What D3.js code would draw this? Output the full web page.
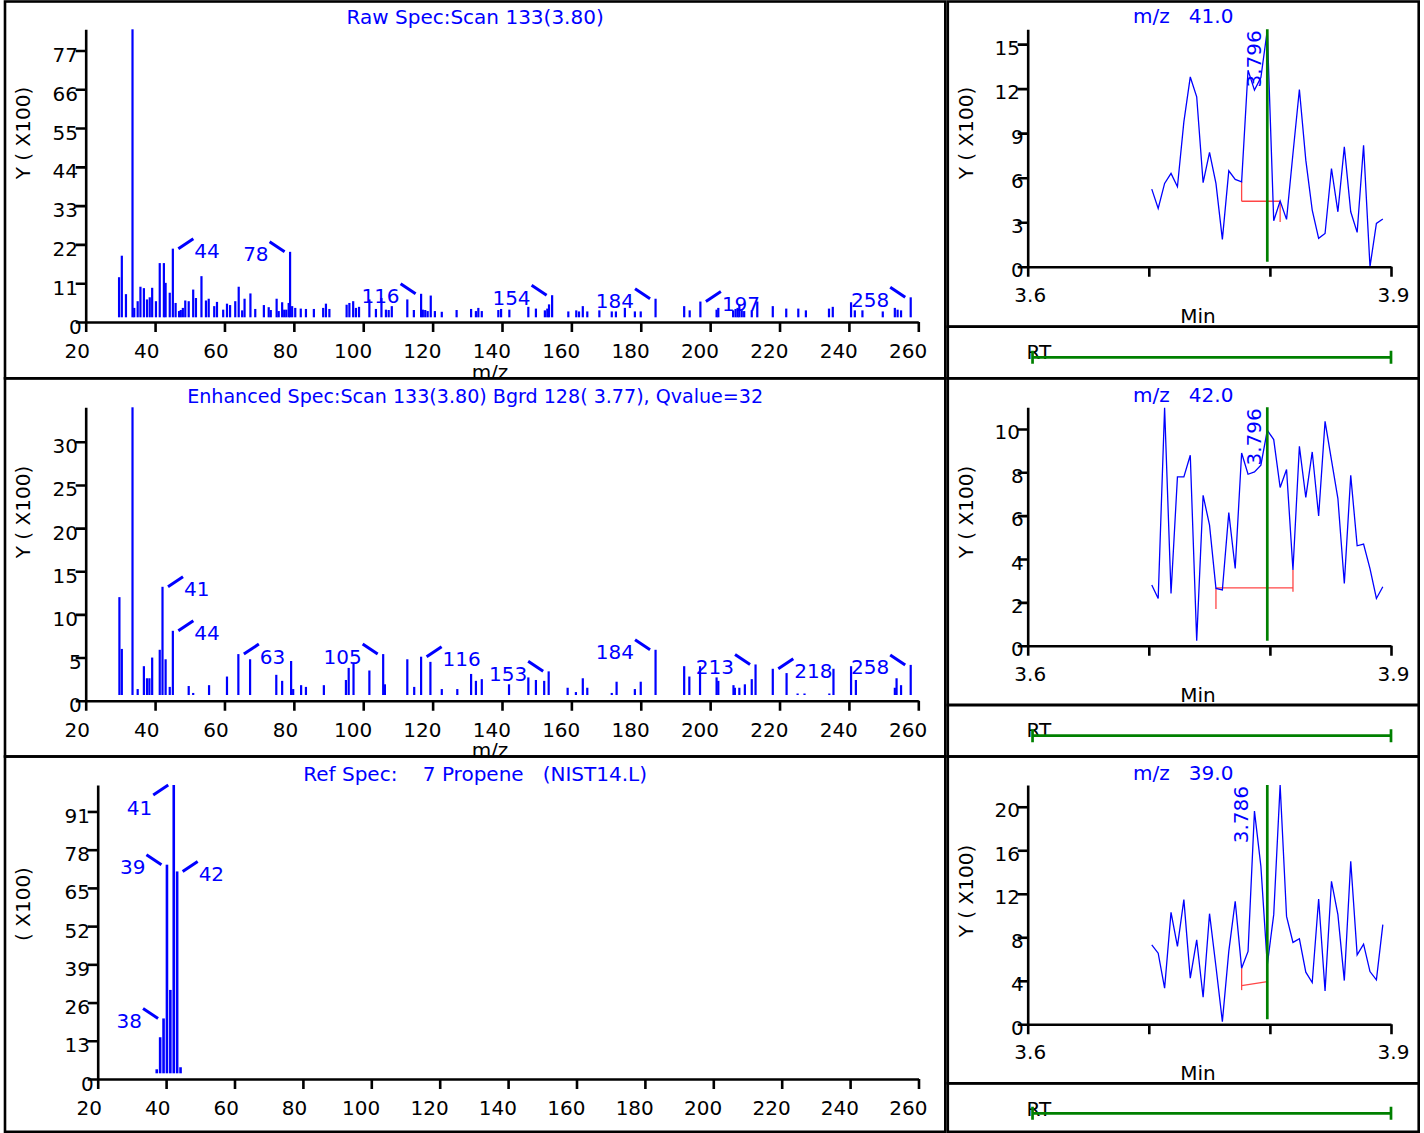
<!DOCTYPE html>
<html>
<head>
<meta charset="utf-8">
<script src="https://cdn.jsdelivr.net/npm/d3@7"></script>
<style>
  html, body { margin: 0; padding: 0; background: #fff; }
  svg { display: block; }
  text { font-family: "DejaVu Sans", Verdana, sans-serif; font-size: 20px; }
</style>
</head>
<body>
<svg id="chart" width="1424" height="1133"></svg>
<script>
// ---------------- Spectrum data ----------------
const mzTicks = [20, 40, 60, 80, 100, 120, 140, 160, 180, 200, 220, 240, 260];

const rawTitle = "Raw Spec:Scan 133(3.80)";
const rawMz = [
  28.4, 29.2, 30.4, 32.3, 32.8, 33.8, 34.6, 35.6, 36.5, 37.3,
  38.0, 39.1, 40.2, 41.4, 41.9, 43.1, 44, 44.8, 45.8, 46.3,
  46.9, 47.6, 48.6, 49.9, 50.7, 52.3, 53.6, 54.4, 56.0, 56.8,
  58.6, 59.7, 60.6, 62.1, 63.1, 64.1, 64.8, 66.5, 67.9, 70.4,
  71.8, 72.4, 74.1, 74.7, 75.7, 76.3, 76.9, 77.6, 78, 78.6,
  79.5, 81.1, 82.6, 84.9, 87.6, 88.4, 89.4, 94.4, 95.2, 96.3,
  97.1, 98.0, 101.0, 102.9, 104.5, 105.8, 106.6, 107.5, 112.0, 113.9,
  116, 116.5, 117.2, 117.9, 118.8, 120.0, 122.0, 126.3, 130.5, 131.9,
  132.6, 133.6, 138.4, 139.2, 141.6, 147.1, 149.3, 151.9, 152.6, 153.1,
  154, 158.7, 161.0, 161.8, 162.9, 164.2, 167.7, 171.3, 172.5, 175.1,
  178.0, 179.7, 184, 192.3, 193.9, 197, 201.7, 202.2, 206.5, 207.2,
  207.8, 208.3, 209.0, 209.7, 211.9, 213.5, 218.0, 221.9, 225.4, 227.6,
  234.3, 235.4, 240.7, 241.8, 244.0, 249.9, 253.4, 254.2, 255.2, 258
];
const rawAbund = [
  12.7, 18.8, 7.9, 83, 4.0, 5.9, 10.0, 9.6, 6.4, 7.0,
  9.7, 5.9, 16.7, 16.7, 11.1, 8.3, 20.8, 5.4, 3.1, 3.4,
  4.0, 6.1, 5.9, 9.2, 6.8, 13.0, 6.1, 6.6, 4.5, 5.7,
  3.5, 5.2, 4.8, 5.9, 10.0, 3.3, 6.6, 8.1, 3.7, 4.8,
  4.2, 3.4, 6.6, 3.1, 5.6, 3.5, 3.5, 5.4, 19.9, 4.5,
  4.0, 3.8, 3.7, 3.7, 4.0, 5.2, 3.7, 4.9, 5.4, 5.9,
  4.0, 4.3, 6.4, 3.7, 6.8, 3.5, 3.4, 4.5, 6.4, 3.4,
  8.0, 3.5, 3.4, 3.1, 7.5, 3.1, 2.9, 3.4, 3.7, 3.1,
  4.0, 3.1, 3.4, 3.7, 3.5, 4.3, 3.8, 3.3, 3.8, 5.0,
  7.6, 3.0, 3.3, 3.0, 4.5, 3.0, 3.3, 3.0, 3.0, 4.0,
  3.0, 3.0, 6.6, 4.5, 3.3, 5.8, 3.5, 4.0, 3.3, 3.7,
  4.0, 4.9, 3.3, 3.1, 3.3, 5.8, 4.5, 3.8, 3.8, 3.3,
  3.8, 4.3, 5.6, 3.3, 3.3, 3.0, 4.0, 3.5, 3.3, 7.0
];
const rawYTicks = [0, 11, 22, 33, 44, 55, 66, 77];
const rawLabels = [44, 78, 116, 154, 184, 197, 258];
const rawLabelSides = ["R", "L", "L", "L", "L", "R", "L"];

const enhTitle = "Enhanced Spec:Scan 133(3.80) Bgrd 128( 3.77), Qvalue=32";
const enhMz = [
  28.5, 29.2, 32.3, 33.8, 35.6, 36.5, 37.2, 38.0, 40.2, 41,
  41.9, 43.1, 44, 48.6, 49.9, 54.5, 59.7, 63, 66.4, 74.0,
  75.7, 78.3, 78.9, 81.2, 82.6, 87.8, 94.2, 95.0, 96.4, 101.0,
  105, 105.5, 112.0, 114.0, 116, 118.7, 122.0, 126.5, 130.5, 131.9,
  133.6, 141.5, 147.1, 149.3, 151.7, 153, 158.5, 160.9, 162.9, 164.2,
  171.3, 172.7, 178.0, 179.7, 184, 192.3, 193.8, 196.9, 201.7, 202.2,
  206.6, 207.0, 208.3, 209.9, 211.9, 213, 218, 222.0, 225.2, 227.2,
  234.4, 235.6, 240.7, 242.1, 253.4, 253.9, 255.2, 258
];
const enhAbund = [
  12.0, 6.0, 34, 1.35, 4.0, 2.6, 2.6, 5.0, 5.9, 13.2,
  4.8, 1.6, 8.1, 1.7, 0.9, 1.8, 2.8, 5.4, 4.8, 3.0,
  2.3, 4.6, 1.35, 1.8, 1.6, 1.8, 2.4, 3.8, 4.4, 3.5,
  5.4, 1.9, 4.8, 1.6, 5.1, 4.5, 1.35, 1.35, 3.1, 2.3,
  2.5, 1.9, 2.7, 2.4, 2.3, 3.4, 1.5, 1.0, 2.6, 1.5,
  0.9, 2.2, 1.35, 2.2, 5.9, 4.0, 2.8, 4.0, 2.7, 2.3,
  1.8, 1.5, 1.5, 1.9, 2.5, 4.2, 3.7, 3.2, 0.4, 0.4,
  0.4, 3.7, 4.0, 2.4, 1.5, 2.6, 1.8, 4.15
];
const enhYTicks = [0, 5, 10, 15, 20, 25, 30];
const enhLabels = [41, 44, 63, 105, 116, 153, 184, 213, 218, 258];
const enhLabelSides = ["R", "R", "R", "L", "R", "L", "L", "L", "R", "L"];

const refTitle = "Ref Spec:    7 Propene   (NIST14.L)";
const refMz = [36, 37, 38, 39, 40, 41, 42, 43];
const refAbund = [3.3, 14.2, 20.6, 72.9, 30.3, 100, 70.6, 4.0];
const refYTicks = [0, 13, 26, 39, 52, 65, 78, 91];
const refLabels = [41, 39, 42, 38];
const refLabelSides = ["LD", "L", "R", "L"];

// ---------------- Ion chromatogram data ----------------
const eicIons = ["41.0", "42.0", "39.0"];
const eicTimes = [
  3.7008, 3.7061, 3.7114, 3.7167, 3.7220, 3.7273, 3.7326, 3.7379, 3.7432, 3.7485,
  3.7538, 3.7591, 3.7644, 3.7697, 3.7750, 3.7803, 3.7856, 3.7909, 3.7962, 3.8015,
  3.8068, 3.8121, 3.8174, 3.8227, 3.8280, 3.8333, 3.8386, 3.8439, 3.8492, 3.8545,
  3.8598, 3.8651, 3.8704, 3.8757, 3.8810, 3.8863, 3.8916
];
const eic41 = [
  5.23, 3.93, 5.61, 6.29, 5.39, 9.76, 12.79, 11.45, 5.66, 7.70,
  5.61, 1.84, 6.46, 5.88, 5.72, 13.24, 11.90, 12.75, 15.94, 3.10,
  4.42, 3.19, 7.63, 11.94, 7.18, 3.82, 1.91, 2.24, 6.62, 3.70,
  8.08, 3.70, 2.31, 8.19, 0.0, 2.92, 3.21
];
const eic42 = [
  2.80, 2.18, 10.98, 2.41, 7.79, 7.79, 8.79, 0.23, 6.94, 5.56,
  2.64, 2.57, 6.14, 3.56, 8.89, 7.91, 8.02, 8.33, 9.94, 9.51,
  7.30, 8.13, 3.49, 9.20, 6.84, 8.94, 5.99, 10.35, 8.56, 6.79,
  2.87, 7.86, 4.61, 4.69, 3.56, 2.18, 2.72
];
const eic39 = [
  7.31, 6.54, 3.32, 10.29, 7.16, 11.46, 4.24, 7.77, 2.49, 10.17,
  5.31, 0.25, 6.70, 11.31, 5.16, 6.70, 19.60, 14.53, 5.47, 10.08,
  22.0, 9.92, 7.53, 7.86, 4.79, 3.84, 11.52, 3.07, 13.15, 10.08,
  4.02, 14.99, 6.39, 7.37, 4.85, 4.09, 9.16
];
const eicYMax = [16, 11, 22];
const eic41Ticks = [0, 3, 6, 9, 12, 15];
const eic42Ticks = [0, 2, 4, 6, 8, 10];
const eic39Ticks = [0, 4, 8, 12, 16, 20];
const eicApexTimes = [3.7962, 3.7962, 3.7856];
const eicScanTime = 3.7962;
// integration baseline: start/end time, level at each end, lower end of each marker
const eicBaseStart = [3.7750, 3.7538, 3.7750];
const eicBaseEnd = [3.8068, 3.8174, 3.7962];
const eicBaseLevelStart = [4.41, 2.67, 3.56];
const eicBaseLevelEnd = [4.41, 2.67, 3.93];
const eicMarkLowStart = [4.41, 1.69, 3.14];
const eicMarkLowEnd = [3.02, 2.49, 3.83];
const timeTicks = [3.6, 3.7, 3.8, 3.9];
const timeTickLabels = [3.6, 3.9];
const rtWindow = [3.604, 3.9];

// ---------------- Drawing ----------------
const svg = d3.select("#chart");
const BLUE = "#0000ff", GREEN = "#008000", RED = "#ff4646", BLACK = "#000";
const AXIS_W = 2.6;

const leftCol = { x0: 5, x1: 945.3 };
const rightCol = { x0: 947.8, x1: 1418.7 };
const rowEdges = [1.5, 378.3, 756.5, 1131.8];
const rtEdges = [326.7, 705, 1083.3];

function styleAxis(a) {
  a.attr("font-size", null).attr("font-family", null);
  a.select(".domain").attr("stroke", BLACK).attr("stroke-width", AXIS_W);
  a.selectAll(".tick line").attr("stroke", BLACK).attr("stroke-width", AXIS_W);
  a.selectAll(".tick text").attr("fill", BLACK).style("font-size", "20px");
}

const specPanels = [
  { title: rawTitle, titleWidth: null, mz: rawMz, ab: rawAbund, ticks: rawYTicks, yMax: 83,
    labels: rawLabels, sides: rawLabelSides,
    axisX: [85.7, 918.3], barX: [90.1, 917.6], axisY: 322, topY: 29.3, gap: 4.7, barW: 2.2,
    titleY: 23.5, yTitle: "Y ( X100)", yTitleY: 133, xTitle: true },
  { title: enhTitle, titleWidth: 576, mz: enhMz, ab: enhAbund, ticks: enhYTicks, yMax: 34,
    labels: enhLabels, sides: enhLabelSides,
    axisX: [85.7, 918.3], barX: [90.1, 917.6], axisY: 700.7, topY: 407.3, gap: 5.7, barW: 2.2,
    titleY: 403, yTitle: "Y ( X100)", yTitleY: 512, xTitle: true },
  { title: refTitle, titleWidth: null, mz: refMz, ab: refAbund, ticks: refYTicks, yMax: 100,
    labels: refLabels, sides: refLabelSides,
    axisX: [97.7, 918.5], barX: [102.4, 917.8], axisY: 1079, topY: 785, gap: 5.7, barW: 2.6,
    titleY: 780.5, yTitle: "( X100)", yTitleY: 904, xTitle: false }
];

specPanels.forEach((p, i) => {
  const top = rowEdges[i], bottom = rowEdges[i + 1];
  const clipId = "spec-clip-" + i;
  svg.append("clipPath").attr("id", clipId).append("rect")
    .attr("x", leftCol.x0).attr("y", top)
    .attr("width", leftCol.x1 - leftCol.x0).attr("height", bottom - top);
  const g = svg.append("g").attr("clip-path", `url(#${clipId})`);

  const x = d3.scaleLinear().domain([20, 260]).range(p.axisX);
  const xb = d3.scaleLinear().domain([20, 260]).range(p.barX);
  const y = d3.scaleLinear().domain([0, p.yMax]).range([p.axisY, p.topY]);
  const base = p.axisY - p.gap;

  const title = g.append("text")
    .attr("x", (leftCol.x0 + leftCol.x1) / 2).attr("y", p.titleY)
    .attr("text-anchor", "middle").attr("fill", BLUE)
    .style("white-space", "pre").text(p.title);
  if (p.titleWidth) title.attr("textLength", p.titleWidth).attr("lengthAdjust", "spacingAndGlyphs");

  const bars = p.mz.map((m, k) => ({ mz: m, ab: p.ab[k] }));
  const barTop = d => Math.min(y(d.ab), base - 1.5);
  g.append("g").selectAll("rect").data(bars).join("rect")
    .attr("x", d => xb(d.mz) - p.barW / 2)
    .attr("y", barTop)
    .attr("width", p.barW)
    .attr("height", d => base - barTop(d))
    .attr("fill", BLUE);

  // peak annotations with short leaders
  const lg = g.append("g");
  p.labels.forEach((lab, k) => {
    const d = bars.find(b => b.mz === lab);
    const side = p.sides[k];
    const s = side[0] === "R" ? 1 : -1;
    const drop = side.length > 1;
    const bx = xb(d.mz), ty = y(d.ab);
    lg.append("line")
      .attr("x1", bx + s * 5.5).attr("y1", ty)
      .attr("x2", bx + s * 20.5).attr("y2", ty + (drop ? 10 : -10))
      .attr("stroke", BLUE).attr("stroke-width", 3);
    lg.append("text")
      .attr("x", bx + s * 21.5).attr("y", drop ? ty + 30 : ty + 9.5)
      .attr("text-anchor", s > 0 ? "start" : "end")
      .attr("fill", BLUE).text(d3.format("d")(d.mz));
  });

  const ax = g.append("g").attr("transform", `translate(0,${p.axisY})`)
    .call(d3.axisBottom(x).tickValues(mzTicks).tickSize(10).tickSizeOuter(0));
  styleAxis(ax);
  ax.selectAll(".tick text")
    .attr("text-anchor", "start")
    .attr("x", d => -(8.15 * String(d).length + 5.3))
    .attr("y", 36).attr("dy", 0);

  const ay = g.append("g").attr("transform", `translate(${p.axisX[0]},0)`)
    .call(d3.axisLeft(y).tickValues(p.ticks).tickSize(10).tickSizeOuter(0));
  styleAxis(ay);
  ay.selectAll(".tick text")
    .attr("text-anchor", "start")
    .attr("x", d => -(16.3 * String(d).length + 0.5))
    .attr("y", 11).attr("dy", 0);

  g.append("text")
    .attr("transform", `translate(30,${p.yTitleY}) rotate(-90)`)
    .attr("text-anchor", "middle").attr("fill", BLACK).style("white-space", "pre")
    .text(p.yTitle);

  if (p.xTitle) {
    g.append("text")
      .attr("x", 490).attr("y", p.axisY + 56.5)
      .attr("text-anchor", "middle").attr("fill", BLACK).text("m/z");
  }
});

const eicSeries = [eic41, eic42, eic39];
const eicTickSets = [eic41Ticks, eic42Ticks, eic39Ticks];
const eicLayout = [
  { axisY: 266.7, topY: 29.3, titleY: 23.3, yTitleY: 133, rtY: 357.3, rtTextY: 358.5 },
  { axisY: 645.7, topY: 407.3, titleY: 401.7, yTitleY: 512, rtY: 735.7, rtTextY: 737.3 },
  { axisY: 1024.3, topY: 785, titleY: 780, yTitleY: 891, rtY: 1113.3, rtTextY: 1116 }
];
const eicAxisX = [1027.7, 1391];

eicSeries.forEach((vals, i) => {
  const L = eicLayout[i];
  const top = rowEdges[i], bottom = rowEdges[i + 1];
  const clipId = "eic-clip-" + i;
  svg.append("clipPath").attr("id", clipId).append("rect")
    .attr("x", rightCol.x0).attr("y", top)
    .attr("width", rightCol.x1 - rightCol.x0).attr("height", bottom - top);
  const g = svg.append("g").attr("clip-path", `url(#${clipId})`);

  const x = d3.scaleLinear().domain([3.6, 3.9]).range(eicAxisX);
  const xp = d3.scaleLinear().domain([3.6, 3.9]).range([eicAxisX[0] + 2, eicAxisX[1] + 2]);
  const y = d3.scaleLinear().domain([0, eicYMax[i]]).range([L.axisY, L.topY]);
  const pts = eicTimes.map((t, k) => ({ t, v: vals[k] }));
  const valueAt = t => pts.reduce((a, b) => Math.abs(b.t - t) < Math.abs(a.t - t) ? b : a).v;

  g.append("text")
    .attr("x", (rightCol.x0 + rightCol.x1) / 2).attr("y", L.titleY)
    .attr("text-anchor", "middle").attr("fill", BLUE).style("white-space", "pre")
    .text("m/z   " + eicIons[i]);

  // integration baseline
  const t0 = eicBaseStart[i], t1 = eicBaseEnd[i];
  const red = g.append("g").attr("stroke", RED).attr("stroke-width", 1.3).attr("fill", "none");
  red.append("line").attr("x1", xp(t0)).attr("x2", xp(t0))
    .attr("y1", y(valueAt(t0))).attr("y2", y(eicMarkLowStart[i]));
  red.append("line").attr("x1", xp(t0)).attr("x2", xp(t1))
    .attr("y1", y(eicBaseLevelStart[i])).attr("y2", y(eicBaseLevelEnd[i]));
  red.append("line").attr("x1", xp(t1)).attr("x2", xp(t1))
    .attr("y1", y(valueAt(t1))).attr("y2", y(eicMarkLowEnd[i]));

  g.append("path").datum(pts)
    .attr("d", d3.line().x(d => xp(d.t)).y(d => y(d.v)))
    .attr("fill", "none").attr("stroke", BLUE).attr("stroke-width", 1.3);

  // current scan marker
  g.append("line")
    .attr("x1", xp(eicScanTime)).attr("x2", xp(eicScanTime))
    .attr("y1", L.topY).attr("y2", L.axisY - 5)
    .attr("stroke", GREEN).attr("stroke-width", 2.7);

  const apexT = eicApexTimes[i];
  g.append("text")
    .attr("transform", `translate(${xp(apexT) - 6},${L.topY + 1}) rotate(-90)`)
    .attr("text-anchor", "end").attr("fill", BLUE)
    .text(apexT.toFixed(3));

  const ax = g.append("g").attr("transform", `translate(0,${L.axisY})`)
    .call(d3.axisBottom(x).tickValues(timeTicks).tickSize(10).tickSizeOuter(0)
      .tickFormat(d => timeTickLabels.some(v => Math.abs(v - d) < 1e-9) ? d3.format(".1f")(d) : ""));
  styleAxis(ax);
  ax.selectAll(".tick text")
    .attr("text-anchor", "middle").attr("x", 2).attr("y", 35).attr("dy", 0);

  const ay = g.append("g").attr("transform", `translate(${eicAxisX[0]},0)`)
    .call(d3.axisLeft(y).tickValues(eicTickSets[i]).tickSize(10).tickSizeOuter(0));
  styleAxis(ay);
  ay.selectAll(".tick text")
    .attr("text-anchor", "start")
    .attr("x", d => -(16.3 * String(d).length + 0.5))
    .attr("y", 10).attr("dy", 0);

  g.append("text")
    .attr("transform", `translate(973,${L.yTitleY}) rotate(-90)`)
    .attr("text-anchor", "middle").attr("fill", BLACK).style("white-space", "pre")
    .text("Y ( X100)");

  g.append("text")
    .attr("x", 1198).attr("y", L.axisY + 56)
    .attr("text-anchor", "middle").attr("fill", BLACK).text("Min");

  // retention-time window strip
  const rt = g.append("g");
  rt.append("text").attr("x", 1026.5).attr("y", L.rtTextY).attr("fill", BLACK).text("RT");
  const rg = rt.append("g").attr("stroke", GREEN).attr("stroke-width", 2.7);
  rg.append("line").attr("x1", x(rtWindow[0])).attr("x2", x(rtWindow[1]))
    .attr("y1", L.rtY).attr("y2", L.rtY);
  rtWindow.forEach(t => {
    rg.append("line").attr("x1", x(t)).attr("x2", x(t))
      .attr("y1", L.rtY - 6.5).attr("y2", L.rtY + 6.5);
  });
});

// panel frames
const frames = svg.append("g").attr("fill", "none").attr("stroke", BLACK).attr("stroke-width", AXIS_W);
for (let i = 0; i < 3; i++) {
  frames.append("rect").attr("x", leftCol.x0).attr("y", rowEdges[i])
    .attr("width", leftCol.x1 - leftCol.x0).attr("height", rowEdges[i + 1] - rowEdges[i]);
  frames.append("rect").attr("x", rightCol.x0).attr("y", rowEdges[i])
    .attr("width", rightCol.x1 - rightCol.x0).attr("height", rtEdges[i] - rowEdges[i]);
  frames.append("rect").attr("x", rightCol.x0).attr("y", rtEdges[i])
    .attr("width", rightCol.x1 - rightCol.x0).attr("height", rowEdges[i + 1] - rtEdges[i]);
}
</script>
</body>
</html>
